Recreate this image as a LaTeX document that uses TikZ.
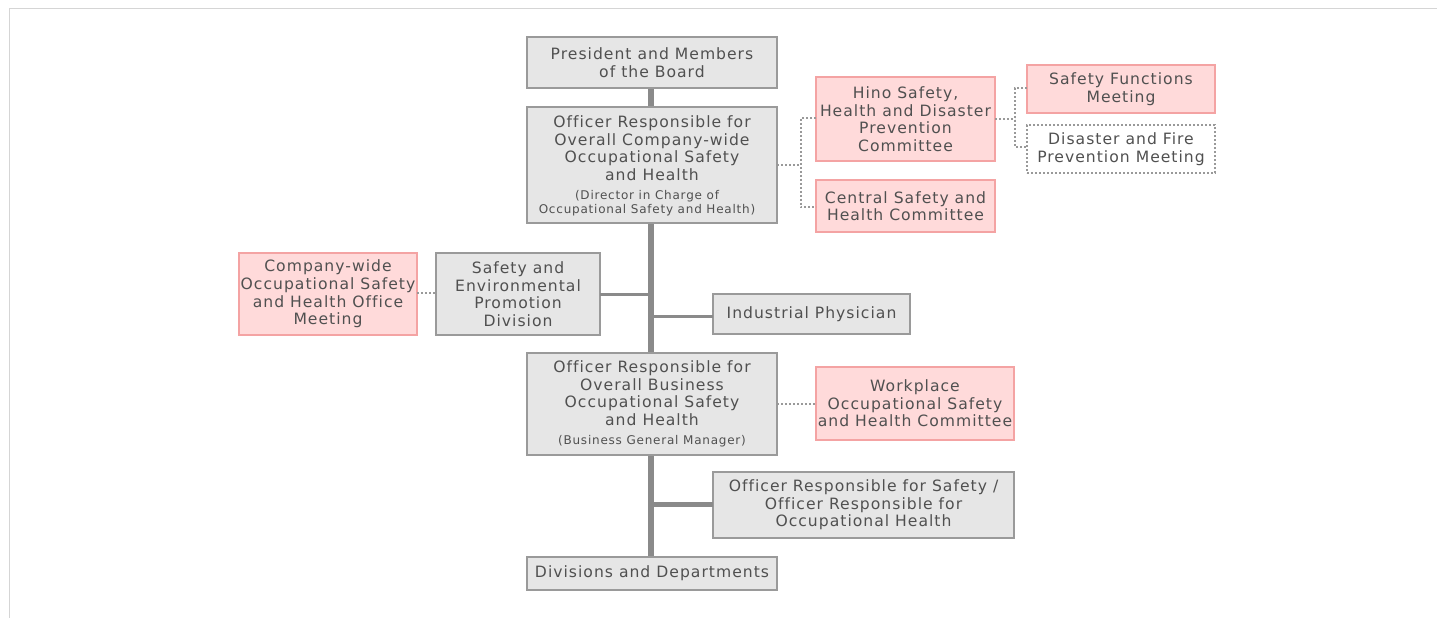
\documentclass[tikz,border=0pt]{standalone}
\usepackage{fontspec}
\setmainfont{DejaVu Sans}
\newfontfamily\boxfont[LetterSpace=6.5,Ligatures=NoCommon]{DejaVu Sans}
\begin{document}
\begin{tikzpicture}[x=1pt,y=-1pt,
  every node/.style={inner sep=0pt,outer sep=0pt,align=center,text=txt,font=\boxfont\fontsize{15.6}{17.6}\selectfont},
  gbox/.style={draw=gbd,fill=gfl,line width=1.3pt},
  pbox/.style={draw=pbd,fill=pfl,line width=1.3pt},
  dbox/.style={draw=dotc,line width=2pt,dash pattern=on 2pt off 2pt},
  trunk/.style={draw=lnc,line width=6pt},
  branch/.style={draw=lnc,line width=3pt},
  dotline/.style={draw=dotc,line width=2pt,dash pattern=on 2pt off 2pt},
  small/.style={font=\boxfont\fontsize{12}{14}\selectfont}]
\definecolor{txt}{HTML}{505050}
\definecolor{gbd}{HTML}{9A9A9A}
\definecolor{gfl}{HTML}{E6E6E6}
\definecolor{pbd}{HTML}{F4A3A3}
\definecolor{pfl}{HTML}{FFDADA}
\definecolor{lnc}{HTML}{8A8A8A}
\definecolor{dotc}{HTML}{999999}
\definecolor{frm}{HTML}{D5D5D5}
\useasboundingbox (0,0) rectangle (1437,618);
% frame
\draw[frm,line width=1.5pt] (9.5,618) -- (9.5,8.5) -- (1437,8.5);
% helper coordinates
\coordinate (tTop) at (651,88);
\coordinate (tBot) at (651,557);
\coordinate (bSE) at (651,294);
\coordinate (bIP) at (651,316);
\coordinate (bOS) at (651,504);
% trunk
\draw[trunk] (tTop) -- (tBot);
% boxes
\node[gbox,minimum width=250pt,minimum height=51pt] (pres) at (652,62.5) {President and Members\\of the Board};
\node[gbox,minimum width=250pt,minimum height=116pt] (ocw) at (652,165) {};
\node at (652,148) {Officer Responsible for\\Overall Company-wide\\Occupational Safety\\and Health};
\node[small] at (647,203) {(Director in Charge of\\Occupational Safety and Health)};
\node[pbox,minimum width=179pt,minimum height=84pt] (hino) at (905.5,119) {Hino Safety,\\Health and Disaster\\Prevention\\Committee};
\node[pbox,minimum width=179pt,minimum height=52pt] (central) at (905.5,206) {Central Safety and\\Health Committee};
\node[pbox,minimum width=188pt,minimum height=48pt] (sfm) at (1121,89) {Safety Functions\\Meeting};
\node[dbox,minimum width=188pt,minimum height=48pt] (dfp) at (1121,149) {Disaster and Fire\\Prevention Meeting};
\node[pbox,minimum width=178pt,minimum height=82pt] (cwo) at (328,294) {Company-wide\\Occupational Safety\\and Health Office\\Meeting};
\node[gbox,minimum width=164pt,minimum height=82pt] (sep) at (518,294) {Safety and\\Environmental\\Promotion\\Division};
\node[gbox,minimum width=197pt,minimum height=40pt] (ip) at (811.5,314) {Industrial Physician};
\node[gbox,minimum width=250pt,minimum height=102pt] (obu) at (652,404) {};
\node at (652,393) {Officer Responsible for\\Overall Business\\Occupational Safety\\and Health};
\node[small] at (652,441) {(Business General Manager)};
\node[pbox,minimum width=198pt,minimum height=73pt] (wp) at (915,403.5) {Workplace\\Occupational Safety\\and Health Committee};
\node[gbox,minimum width=301pt,minimum height=66pt] (osh) at (863.5,505) {Officer Responsible for Safety /\\Officer Responsible for\\Occupational Health};
\node[gbox,minimum width=250pt,minimum height=33pt] (div) at (652,573.5) {Divisions and Departments};
% solid branches
\draw[branch] (bSE) -- (sep.east |- bSE);
\draw[branch] (bIP) -- (ip.west |- bIP);
\draw[draw=lnc,line width=5pt] (bOS) -- (osh.west |- bOS);
% dotted connectors
\coordinate (d1) at (800.5,165);
\draw[dotline] (ocw.east |- d1) -- (d1);
\draw[dotline] (hino.west |- 0,118) -| (d1) |- (central.west |- 0,207);
\coordinate (d2) at (1015,119);
\draw[dotline] (hino.east |- d2) -- (d2);
\draw[dotline] (sfm.west |- 0,88) -| (d2) |- (dfp.west |- 0,147);
\draw[dotline] (cwo.east |- 0,293) -- (sep.west |- 0,293);
\draw[dotline] (obu.east |- 0,404) -- (wp.west |- 0,404);
\end{tikzpicture}
\end{document}
